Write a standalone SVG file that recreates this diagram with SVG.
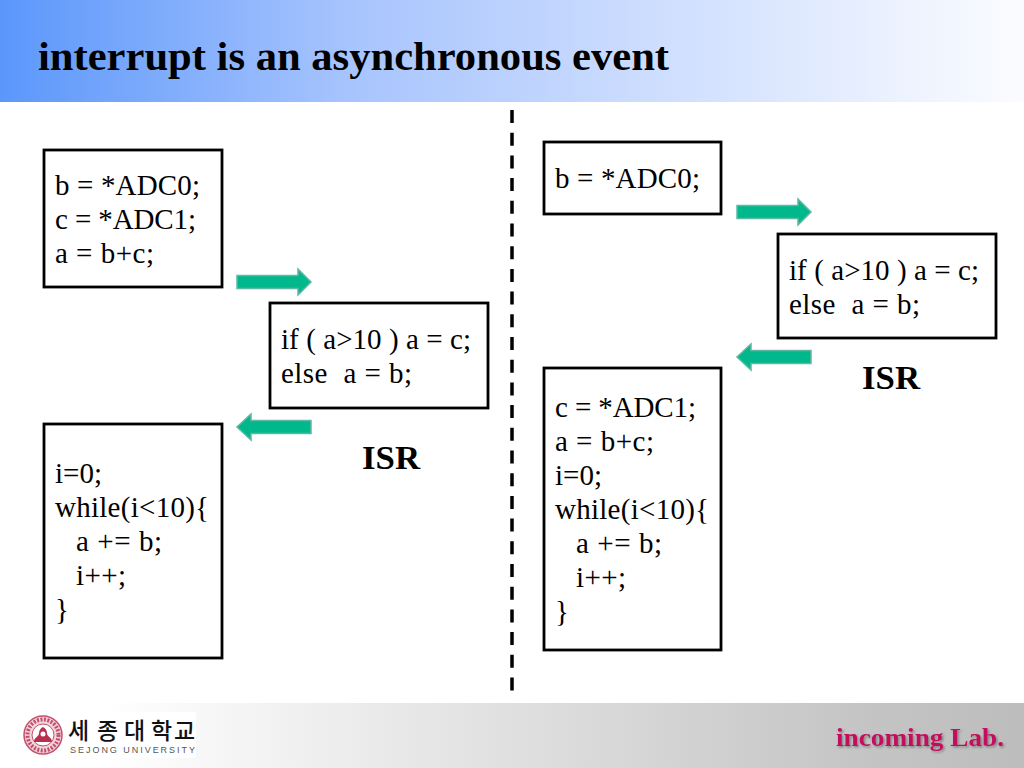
<svg xmlns="http://www.w3.org/2000/svg" width="1024" height="768" viewBox="0 0 1024 768">
<style>
.box{fill:#fff;stroke:#000;stroke-width:2.8}
.code{font-family:"Liberation Serif","DejaVu Serif",serif;font-size:29px;fill:#000;white-space:pre}
.isr{font-family:"Liberation Serif","DejaVu Serif",serif;font-size:34px;font-weight:bold;fill:#000}
.arrow{fill:#00b88c;stroke:#5fb8a4;stroke-width:1.5}
</style>
<defs>
<linearGradient id="hd" x1="0" x2="1" y1="0" y2="0"><stop offset="0" stop-color="#5b97fb"/><stop offset="0.35" stop-color="#a9c5fd"/><stop offset="1" stop-color="#fbfcff"/></linearGradient>
<linearGradient id="ft" x1="0" x2="1" y1="0" y2="0"><stop offset="0.1" stop-color="#ffffff"/><stop offset="0.85" stop-color="#c4c4c4"/><stop offset="1" stop-color="#bdbdbd"/></linearGradient>
<filter id="sh" x="-5%" y="-20%" width="110%" height="140%"><feDropShadow dx="1.5" dy="1.5" stdDeviation="1" flood-color="#666" flood-opacity="0.7"/></filter>
</defs>
<g id="header"><rect width="1024" height="102" fill="url(#hd)"/>
<text x="38" y="70" font-family="Liberation Serif,serif" font-size="40" font-weight="bold" textLength="631" lengthAdjust="spacingAndGlyphs" fill="#000">interrupt is an asynchronous event</text></g>
<g id="footer"><rect y="703" width="1024" height="65" fill="url(#ft)"/>
<rect x="20" y="712" width="176" height="46" fill="#fff"/>
<g id="seal" fill="none" stroke="#c4506e"><circle cx="43" cy="735" r="19" fill="#f0d5da" stroke-width="1.5"/><circle cx="43" cy="735" r="15.500" stroke-width="4" stroke-dasharray="2 1.5"/><circle cx="43" cy="735" r="11" fill="#fff" stroke-width="1"/><path d="M34 742c0-5 5-5 5-9 0-3 2-5 4-6 2 1 4 3 4 6 0 4 5 4 5 9z" fill="#b8304f" stroke="none"/><circle cx="43" cy="734" r="2.500" fill="#fff" stroke="none"/></g>
<text x="68 97 124 151 174" y="739" font-family="Noto Sans CJK KR,sans-serif" font-size="23" font-weight="500" fill="#111">세종대학교</text>
<text x="70" y="753" font-family="Liberation Sans,sans-serif" font-size="9" fill="#555" textLength="125" lengthAdjust="spacing">SEJONG UNIVERSITY</text>
<text x="836" y="746" font-family="Liberation Serif,serif" font-size="26" font-weight="bold" fill="#c4085f" filter="url(#sh)" textLength="168" lengthAdjust="spacingAndGlyphs">incoming Lab.</text></g>
<g id="connectors">
<path d="M512 110V691" stroke="#000" stroke-width="3.500" fill="none" stroke-dasharray="13 9.700"/>
<path class="arrow" d="M237 275.500h61v-6.500l13 13-13 13v-6.500h-61z"/>
<path class="arrow" d="M311 420.500h-60v-6.500l-14 13 14 13v-6.500h60z"/>
<path class="arrow" d="M737 205.500h61v-6.500l13 13-13 13v-6.500h-61z"/>
<path class="arrow" d="M811 350.500h-60v-6.500l-14 13 14 13v-6.500h60z"/>
</g>
<g id="n1"><rect class="box" x="44" y="150" width="178" height="137"/>
<text class="code" x="55" y="195" textLength="145" lengthAdjust="spacing">b = *ADC0;</text><text class="code" x="55" y="229" textLength="141" lengthAdjust="spacing">c = *ADC1;</text><text class="code" x="55" y="263" textLength="99" lengthAdjust="spacing">a = b+c;</text></g>
<g id="n2"><rect class="box" x="270" y="303" width="218" height="105"/>
<text class="code" x="281" y="349" textLength="190" lengthAdjust="spacing">if ( a&gt;10 ) a = c;</text><text class="code" x="281" y="383" textLength="131" lengthAdjust="spacing">else  a = b;</text></g>
<g id="n3"><rect class="box" x="44" y="424" width="178" height="234"/>
<text class="code" x="55" y="483">i=0;</text><text class="code" x="55" y="517" textLength="154" lengthAdjust="spacing">while(i&lt;10){</text><text class="code" x="76" y="551" textLength="86" lengthAdjust="spacing">a += b;</text><text class="code" x="76" y="585" textLength="50" lengthAdjust="spacing">i++;</text><text class="code" x="55" y="619">}</text></g>
<g id="isr1"><text class="isr" x="362" y="469" textLength="58" lengthAdjust="spacingAndGlyphs">ISR</text></g>
<g id="n4"><rect class="box" x="544" y="142" width="177" height="72"/>
<text class="code" x="555" y="188" textLength="145" lengthAdjust="spacing">b = *ADC0;</text></g>
<g id="n5"><rect class="box" x="778" y="234" width="218" height="104"/>
<text class="code" x="789" y="280" textLength="190" lengthAdjust="spacing">if ( a&gt;10 ) a = c;</text><text class="code" x="789" y="314" textLength="131" lengthAdjust="spacing">else  a = b;</text></g>
<g id="n6"><rect class="box" x="544" y="368" width="177" height="282"/>
<text class="code" x="555" y="417" textLength="141" lengthAdjust="spacing">c = *ADC1;</text><text class="code" x="555" y="451" textLength="99" lengthAdjust="spacing">a = b+c;</text><text class="code" x="555" y="485">i=0;</text><text class="code" x="555" y="519" textLength="154" lengthAdjust="spacing">while(i&lt;10){</text><text class="code" x="576" y="553" textLength="86" lengthAdjust="spacing">a += b;</text><text class="code" x="576" y="587" textLength="50" lengthAdjust="spacing">i++;</text><text class="code" x="555" y="621">}</text></g>
<g id="isr2"><text class="isr" x="862" y="389" textLength="58" lengthAdjust="spacingAndGlyphs">ISR</text></g>
</svg>
